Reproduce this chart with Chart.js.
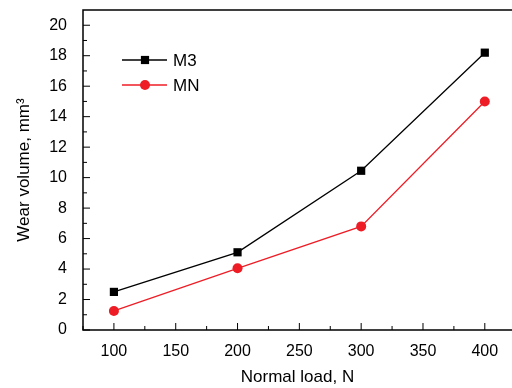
<!DOCTYPE html>
<html>
<head>
<meta charset="utf-8">
<script src="https://cdn.jsdelivr.net/npm/chart.js@4/dist/chart.umd.min.js"></script>
<style>
  html, body { margin: 0; padding: 0; background: #fff; }
  #wrap { width: 512px; height: 388px; }
</style>
</head>
<body>
<div id="wrap"><canvas id="c" width="512" height="388"></canvas></div>
<script>
// ============ DATOS ============
const cargas = [100, 200, 300, 400];
const m3 = [2.5, 5.1, 10.45, 18.2];
const mn = [1.25, 4.05, 6.8, 15.0];
const ticksX = [100, 150, 200, 250, 300, 350, 400];
const ticksY = [0, 2, 4, 6, 8, 10, 12, 14, 16, 18, 20];
const menoresX = [75, 125, 175, 225, 275, 325, 375];
const menoresY = [1, 3, 5, 7, 9, 11, 13, 15, 17, 19];

const FUENTE = '"Liberation Sans", Arial, sans-serif';
const ROJO = '#ee1c25';

// Marco + ticks hacia adentro + leyenda
const marco = {
  id: 'marco',
  afterDraw(chart) {
    const { ctx, chartArea: a, scales: { x, y } } = chart;
    ctx.save();
    ctx.strokeStyle = '#000';
    ctx.lineWidth = 1.5;
    ctx.beginPath();
    ctx.moveTo(a.right, a.top); ctx.lineTo(a.left, a.top);
    ctx.lineTo(a.left, a.bottom); ctx.lineTo(a.right, a.bottom);
    ctx.stroke();
    ctx.lineWidth = 1;
    ctx.beginPath();
    ticksY.forEach(v => { const p = y.getPixelForValue(v); ctx.moveTo(a.left, p); ctx.lineTo(a.left + 7, p); });
    menoresY.forEach(v => { const p = y.getPixelForValue(v); ctx.moveTo(a.left, p); ctx.lineTo(a.left + 4, p); });
    ticksX.forEach(v => { const p = x.getPixelForValue(v); ctx.moveTo(p, a.bottom); ctx.lineTo(p, a.bottom - 7); });
    menoresX.forEach(v => { const p = x.getPixelForValue(v); ctx.moveTo(p, a.bottom); ctx.lineTo(p, a.bottom - 4); });
    ctx.stroke();

    // leyenda
    chart.data.datasets.forEach((ds, i) => {
      const yy = a.top + 50 + i * 25;
      const x0 = a.left + 39, x1 = a.left + 84, xm = a.left + 62;
      ctx.strokeStyle = ds.borderColor;
      ctx.lineWidth = ds.borderWidth;
      ctx.beginPath(); ctx.moveTo(x0, yy); ctx.lineTo(x1, yy); ctx.stroke();
      ctx.fillStyle = ds.pointBackgroundColor;
      Chart.helpers.drawPoint(ctx, { pointStyle: ds.pointStyle, radius: ds.pointRadius, borderWidth: 0 }, xm, yy);
      ctx.fillStyle = '#000';
      ctx.font = '17px ' + FUENTE;
      ctx.textBaseline = 'middle';
      ctx.fillText(ds.label, a.left + 90, yy + 1);
    });
    ctx.restore();
  }
};

// fuerza el área del gráfico a los bordes del original
const area = {
  id: 'area',
  afterLayout(chart) {
    const a = chart.chartArea;
    a.right = 512; a.width = a.right - a.left;
    chart.scales.x.right = 512; chart.scales.x.width = 512 - chart.scales.x.left;
    chart.scales.x.configure();
  }
};

new Chart(document.getElementById('c'), {
  type: 'line',
  data: {
    datasets: [
      { label: 'M3', data: cargas.map((c, i) => ({ x: c, y: m3[i] })), borderColor: '#000', backgroundColor: '#000',
        pointBackgroundColor: '#000', pointBorderWidth: 0, borderWidth: 1.3, pointStyle: 'rect', pointRadius: 5.8, tension: 0 },
      { label: 'MN', data: cargas.map((c, i) => ({ x: c, y: mn[i] })), borderColor: ROJO, backgroundColor: ROJO,
        pointBackgroundColor: ROJO, pointBorderWidth: 0, borderWidth: 1.3, pointStyle: 'circle', pointRadius: 5, tension: 0 },
    ],
  },
  options: {
    responsive: false, animation: false,
    layout: { padding: { top: 10, right: 0, left: 0, bottom: 0 } },
    plugins: { legend: { display: false }, tooltip: { enabled: false } },
    scales: {
      x: {
        type: 'linear', min: 75, max: 422,
        afterBuildTicks: s => { s.ticks = ticksX.map(v => ({ value: v })); },
        afterFit: s => { s.height = 58; s.paddingLeft = 0; s.paddingRight = 0; },
        grid: { display: false, drawTicks: false }, border: { display: false },
        ticks: { color: '#000', font: { family: FUENTE, size: 16 }, padding: 12, maxRotation: 0 },
        title: { display: true, text: 'Normal load, N', color: '#000', font: { family: FUENTE, size: 17 }, padding: { top: 4, bottom: 0 } },
      },
      y: {
        min: 0, max: 21,
        afterBuildTicks: s => { s.ticks = ticksY.map(v => ({ value: v })); },
        afterFit: s => { s.width = 83; s.paddingTop = 0; s.paddingBottom = 0; },
        grid: { display: false, drawTicks: false }, border: { display: false },
        ticks: { color: '#000', font: { family: FUENTE, size: 16 }, padding: 16 },
        title: { display: true, text: 'Wear volume, mm³', color: '#000', font: { family: FUENTE, size: 17 }, padding: { top: 14, bottom: 0 } },
      },
    },
  },
  plugins: [marco, area],
});
</script>
</body>
</html>
